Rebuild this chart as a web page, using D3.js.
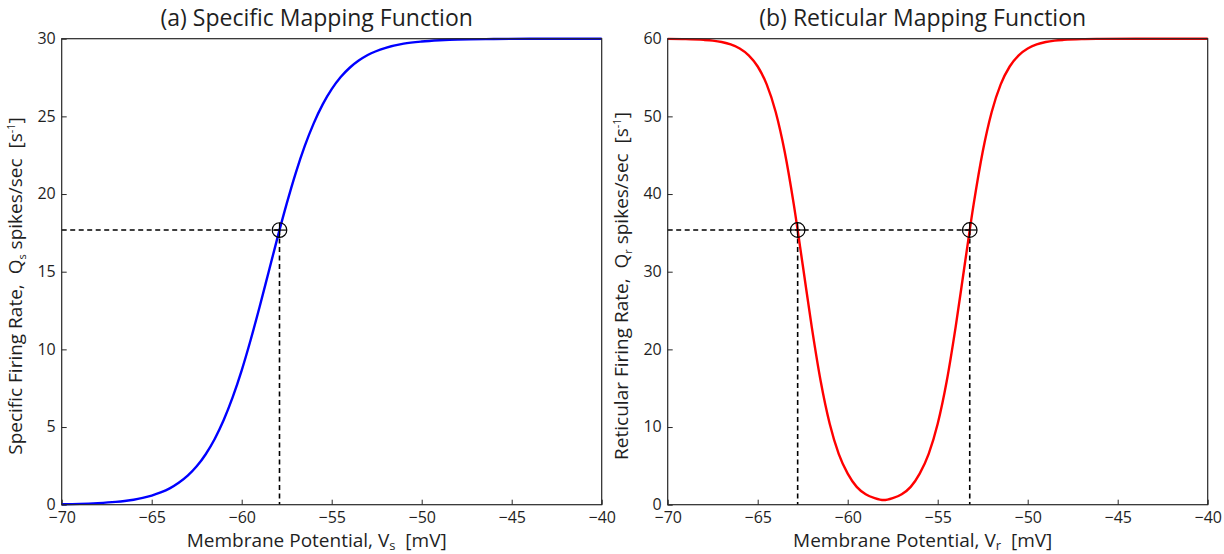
<!DOCTYPE html>
<html>
<head>
<meta charset="utf-8">
<script src="https://cdn.jsdelivr.net/npm/d3@7"></script>
<style>
  html, body { margin: 0; padding: 0; background: #fff; }
  svg text { font-family: "Open Sans", "DejaVu Sans", sans-serif; fill: #1f1f1f; }
</style>
</head>
<body>
<svg id="chart" width="1224" height="554"></svg>
<script>
// Membrane potential ticks shared by both panels
const xTicks = [-70, -65, -60, -55, -50, -45, -40];
const specificYTicks = [0, 5, 10, 15, 20, 25, 30];
const reticularYTicks = [0, 10, 20, 30, 40, 50, 60];

// Specific (relay) population: firing rate vs membrane potential
const specificV = [-70, -69, -68, -67, -66.5, -66, -65.5, -65, -64.5, -64, -63.5, -63, -62.5, -62, -61.5, -61, -60.5, -60, -59.5, -59, -58.5, -58, -57.5, -57, -56.5, -56, -55.5, -55, -54.5, -54, -53.5, -53, -52, -51, -50, -49, -48, -46, -44, -42, -40];
const specificQ = [0.03, 0.05, 0.10, 0.18, 0.24, 0.32, 0.44, 0.59, 0.79, 1.05, 1.41, 1.87, 2.47, 3.25, 4.23, 5.45, 6.92, 8.65, 10.62, 12.76, 15.0, 17.24, 19.38, 21.35, 23.08, 24.55, 25.77, 26.75, 27.53, 28.13, 28.59, 28.95, 29.41, 29.68, 29.82, 29.90, 29.95, 29.98, 29.995, 29.999, 30];

// Reticular population: firing rate vs membrane potential
const reticularV = [-70, -69, -68, -67.5, -67, -66.5, -66, -65.5, -65, -64.5, -64, -63.5, -63, -62.5, -62, -61.5, -61, -60.5, -60, -59.5, -59, -58.5, -58, -57.5, -57, -56.5, -56, -55.5, -55, -54.5, -54, -53.5, -53, -52.5, -52, -51.5, -51, -50.5, -50, -49.5, -49, -48.5, -48, -47, -46, -44, -40];
const reticularQ = [59.98, 59.95, 59.85, 59.75, 59.57, 59.26, 58.74, 57.86, 56.42, 54.12, 50.57, 45.45, 38.73, 30.89, 22.93, 15.89, 10.42, 6.55, 4.0, 2.3, 1.35, 0.85, 0.6, 0.85, 1.35, 2.3, 4.0, 6.55, 10.42, 15.89, 22.93, 30.89, 38.73, 45.45, 50.57, 54.12, 56.42, 57.86, 58.74, 59.26, 59.57, 59.75, 59.85, 59.95, 59.98, 60, 60];

// Operating points marked on each curve
const specificPointV = [-57.9];
const specificPointQ = [17.68];
const reticularPointV = [-62.78, -53.22];
const reticularPointQ = [35.37, 35.37];

const svg = d3.select("#chart");

function drawPanel(opts) {
  const { left, right, top, bottom, yMax, yTicks, vs, qs, pv, pq, color, title, sub, yLabelName } = opts;
  const x = d3.scaleLinear().domain([-70, -40]).range([left, right]);
  const y = d3.scaleLinear().domain([0, yMax]).range([bottom, top]);
  const g = svg.append("g");
  const labelX = (left + right) / 2 - 15;

  // x axis, ticks pointing into the plot
  const xAxis = d3.axisBottom(x).tickValues(xTicks).tickSize(-5).tickPadding(7).tickFormat(d3.format("d"));
  const gx = g.append("g").attr("transform", `translate(0,${bottom})`).call(xAxis);
  gx.select(".domain").remove();
  gx.selectAll(".tick line").attr("stroke", "#262626");
  gx.selectAll(".tick text").style("font-size", "16px").attr("dy", "0.72em");

  const yAxis = d3.axisLeft(y).tickValues(yTicks).tickSize(-5).tickPadding(6).tickFormat(d3.format("d"));
  const gy = g.append("g").attr("transform", `translate(${left},0)`).call(yAxis);
  gy.select(".domain").remove();
  gy.selectAll(".tick line").attr("stroke", "#262626");
  gy.selectAll(".tick text").style("font-size", "16px").attr("dy", "0.3em");

  // Dashed guides from the axes to each marked point
  const guides = g.append("g").attr("stroke", "#000").attr("stroke-width", 1.6).attr("stroke-dasharray", "5,3.5").attr("fill", "none");
  const maxV = d3.max(pv);
  guides.append("line").attr("x1", left).attr("x2", x(maxV)).attr("y1", y(pq[0])).attr("y2", y(pq[0]));
  pv.forEach((v, i) => {
    guides.append("line").attr("x1", x(v)).attr("x2", x(v)).attr("y1", y(pq[i])).attr("y2", bottom);
  });

  // Firing-rate curve
  const line = d3.line().x((d, i) => x(vs[i])).y((d, i) => y(qs[i])).curve(d3.curveMonotoneX);
  g.append("path").datum(vs).attr("d", line).attr("fill", "none").attr("stroke", color).attr("stroke-width", 2.4);

  // Circle-plus markers
  pv.forEach((v, i) => {
    const cx = x(v), cy = y(pq[i]);
    const m = g.append("g").attr("stroke", "#000").attr("stroke-width", 1.2).attr("fill", "none");
    m.append("circle").attr("cx", cx).attr("cy", cy).attr("r", 7.3);
    m.append("line").attr("x1", cx - 7.3).attr("x2", cx + 7.3).attr("y1", cy).attr("y2", cy);
    m.append("line").attr("x1", cx).attr("x2", cx).attr("y1", cy - 7.3).attr("y2", cy + 7.3);
  });

  // Frame
  g.append("rect").attr("x", left).attr("y", top).attr("width", right - left).attr("height", bottom - top)
    .attr("fill", "none").attr("stroke", "#262626").attr("stroke-width", 1.2);

  // Title
  g.append("text").attr("x", labelX).attr("y", 26).attr("text-anchor", "middle")
    .style("font-size", "23px").text(title);

  // x label
  const xl = g.append("text").attr("x", labelX).attr("y", 547).attr("text-anchor", "middle").style("font-size", "19px");
  xl.append("tspan").text("Membrane Potential, V");
  xl.append("tspan").attr("dy", 2.5).style("font-size", "13px").text(sub);
  xl.append("tspan").attr("dy", -2.5).text("\u00a0\u00a0[mV]");

  // y label
  const yl = g.append("text").attr("transform", `translate(${left - 40},286) rotate(-90)`)
    .attr("text-anchor", "middle").style("font-size", "19px");
  yl.append("tspan").text(yLabelName + " Firing Rate,\u00a0\u00a0Q");
  yl.append("tspan").attr("dy", 4).style("font-size", "11px").text(sub);
  yl.append("tspan").attr("dy", -4).text(" spikes/sec\u00a0\u00a0[s");
  yl.append("tspan").attr("dy", -7).style("font-size", "11px").text("-1");
  yl.append("tspan").attr("dy", 7).text("]");
}

drawPanel({
  left: 61.7, right: 601.7, top: 38.7, bottom: 504.7, yMax: 30, yTicks: specificYTicks,
  vs: specificV, qs: specificQ, pv: specificPointV, pq: specificPointQ, color: "#0000ff",
  title: "(a) Specific Mapping Function", sub: "s", yLabelName: "Specific"
});
drawPanel({
  left: 667.7, right: 1207.7, top: 38.7, bottom: 504.7, yMax: 60, yTicks: reticularYTicks,
  vs: reticularV, qs: reticularQ, pv: reticularPointV, pq: reticularPointQ, color: "#ff0000",
  title: "(b) Reticular Mapping Function", sub: "r", yLabelName: "Reticular"
});
</script>
</body>
</html>
